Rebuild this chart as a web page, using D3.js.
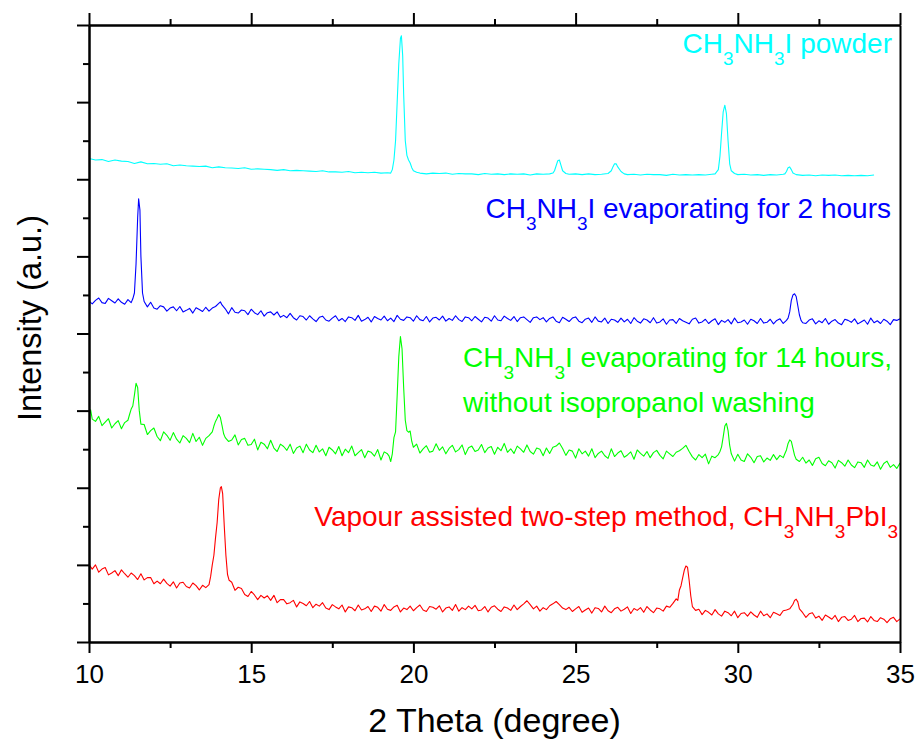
<!DOCTYPE html>
<html>
<head>
<meta charset="utf-8">
<script src="https://cdn.jsdelivr.net/npm/d3@7"></script>
<style>
body { margin: 0; background: #fff; }
text { font-family: "Liberation Sans", Arial, sans-serif; }
</style>
</head>
<body>
<div id="chart"></div>
<script>
// [2theta (deg), intensity (a.u., offset as plotted)]
const powder = [
[10.0,1254],[10.2,1250],[10.4,1251],[10.6,1246],[10.8,1250],[11.0,1247],[11.2,1246],[11.4,1241],[11.6,1245],[11.8,1240],
[12.0,1241],[12.2,1239],[12.4,1240],[12.6,1235],[12.8,1237],[13.0,1235],[13.2,1234],[13.4,1233],[13.6,1234],[13.8,1230],
[14.0,1232],[14.2,1230],[14.4,1229],[14.6,1228],[14.8,1230],[15.0,1226],[15.2,1227],[15.4,1226],[15.6,1225],[15.8,1223],
[16.0,1225],[16.2,1222],[16.4,1223],[16.6,1222],[16.8,1221],[17.0,1220],[17.2,1222],[17.4,1219],[17.6,1219],[17.8,1218],
[18.0,1220],[18.2,1217],[18.4,1218],[18.6,1217],[18.8,1218],[19.0,1216],[19.2,1217],[19.3,1216],[19.35,1225],[19.4,1250],
[19.45,1300],[19.5,1400],[19.55,1500],[19.6,1565],[19.63,1572],[19.67,1520],[19.7,1420],[19.75,1300],[19.8,1262],[19.85,1250],
[19.9,1242],[19.95,1230],[20.0,1222],[20.1,1218],[20.2,1216],[20.4,1214],[20.6,1216],[20.8,1215],[21.0,1216],[21.2,1213],
[21.4,1215],[21.6,1214],[21.8,1214],[22.0,1212],[22.2,1215],[22.4,1213],[22.6,1214],[22.8,1212],[23.0,1214],[23.2,1213],
[23.4,1214],[23.6,1211],[23.8,1214],[24.0,1213],[24.2,1214],[24.3,1216],[24.35,1222],[24.4,1235],[24.45,1248],[24.5,1250],
[24.55,1236],[24.6,1222],[24.7,1215],[24.8,1213],[25.0,1214],[25.2,1212],[25.4,1214],[25.6,1212],[25.8,1213],[26.0,1215],
[26.1,1222],[26.15,1232],[26.2,1240],[26.25,1240],[26.3,1232],[26.4,1220],[26.5,1214],[26.6,1212],[26.8,1213],[27.0,1211],
[27.2,1213],[27.4,1212],[27.6,1212],[27.8,1210],[28.0,1213],[28.2,1211],[28.4,1212],[28.6,1211],[28.8,1212],[29.0,1211],
[29.2,1213],[29.3,1214],[29.4,1225],[29.45,1260],[29.5,1320],[29.55,1375],[29.6,1392],[29.65,1370],[29.7,1300],[29.75,1240],
[29.8,1222],[29.9,1215],[30.0,1212],[30.2,1213],[30.4,1211],[30.6,1212],[30.8,1210],[31.0,1212],[31.2,1211],[31.4,1213],
[31.45,1214],[31.5,1220],[31.55,1230],[31.6,1232],[31.65,1225],[31.7,1216],[31.8,1212],[32.0,1210],[32.2,1211],[32.4,1209],
[32.6,1211],[32.8,1210],[33.0,1211],[33.2,1209],[33.4,1210],[33.6,1209],[33.8,1210],[34.0,1209],[34.2,1211]
];

const evap2h = [
[10.0,884],[10.1,877],[10.2,886],[10.3,892],[10.4,880],[10.5,878],[10.6,891],[10.7,885],[10.8,879],[10.9,890],
[11.0,881],[11.1,876],[11.2,888],[11.3,880],[11.35,890],[11.4,905],[11.45,980],[11.5,1100],[11.53,1149],[11.57,1120],
[11.6,1000],[11.65,905],[11.7,883],[11.8,869],[11.9,881],[12.0,866],[12.1,863],[12.2,872],[12.3,869],[12.4,858],
[12.5,866],[12.6,869],[12.7,859],[12.8,870],[12.9,856],[13.0,860],[13.1,865],[13.2,853],[13.3,867],[13.4,862],
[13.5,857],[13.6,868],[13.7,858],[13.8,866],[13.9,870],[14.0,878],[14.05,882],[14.1,874],[14.2,864],[14.3,851],
[14.4,867],[14.5,855],[14.6,853],[14.7,861],[14.8,859],[14.9,849],[15.0,863],[15.1,854],[15.2,849],[15.3,859],
[15.4,845],[15.5,854],[15.6,856],[15.7,848],[15.8,856],[15.9,842],[16.0,847],[16.1,841],[16.2,852],[16.3,841],
[16.4,835],[16.5,846],[16.6,844],[16.7,835],[16.8,846],[16.9,838],[17.0,831],[17.1,842],[17.2,845],[17.3,835],
[17.4,832],[17.5,840],[17.6,846],[17.7,833],[17.8,839],[17.9,831],[18.0,843],[18.1,841],[18.2,834],[18.3,847],
[18.4,832],[18.5,836],[18.6,842],[18.7,830],[18.8,844],[18.9,839],[19.0,835],[19.1,845],[19.2,833],[19.3,840],
[19.4,831],[19.5,847],[19.6,837],[19.7,834],[19.8,843],[19.9,841],[20.0,832],[20.1,846],[20.2,836],[20.3,833],
[20.4,844],[20.5,830],[20.6,840],[20.7,842],[20.8,835],[20.9,845],[21.0,832],[21.1,839],[21.2,834],[21.3,846],
[21.4,836],[21.5,831],[21.6,843],[21.7,841],[21.8,833],[21.9,844],[22.0,837],[22.1,830],[22.2,842],[22.3,840],
[22.4,832],[22.5,846],[22.6,835],[22.7,833],[22.8,845],[22.9,839],[23.0,834],[23.1,844],[23.2,831],[23.3,841],
[23.4,843],[23.5,836],[23.6,829],[23.7,841],[23.8,843],[23.9,836],[24.0,841],[24.1,830],[24.2,839],[24.3,843],
[24.4,832],[24.5,828],[24.6,842],[24.7,837],[24.8,831],[24.9,840],[25.0,843],[25.1,832],[25.2,828],[25.3,837],
[25.4,840],[25.5,829],[25.6,843],[25.7,832],[25.8,830],[25.9,840],[26.0,826],[26.1,837],[26.2,835],[26.3,829],
[26.4,840],[26.5,830],[26.6,837],[26.7,826],[26.8,841],[26.9,832],[27.0,827],[27.1,838],[27.2,835],[27.3,828],
[27.4,841],[27.5,827],[27.6,830],[27.7,838],[27.8,824],[27.9,835],[28.0,836],[28.1,826],[28.2,839],[28.3,833],
[28.4,829],[28.5,825],[28.6,837],[28.7,840],[28.8,827],[28.9,830],[29.0,837],[29.1,826],[29.2,833],[29.3,838],
[29.4,823],[29.5,834],[29.6,829],[29.7,836],[29.8,825],[29.9,840],[30.0,828],[30.1,830],[30.2,835],[30.3,824],
[30.4,837],[30.5,833],[30.6,826],[30.7,839],[30.8,827],[30.9,829],[31.0,837],[31.1,825],[31.2,834],[31.3,838],
[31.4,826],[31.5,834],[31.55,840],[31.6,856],[31.65,886],[31.7,900],[31.75,903],[31.8,896],[31.85,872],[31.9,848],
[31.95,834],[32.0,828],[32.1,826],[32.2,835],[32.3,838],[32.4,825],[32.5,833],[32.6,828],[32.7,839],[32.8,824],
[32.9,832],[33.0,836],[33.1,827],[33.2,823],[33.3,837],[33.4,834],[33.5,829],[33.6,838],[33.7,825],[33.8,830],
[33.9,835],[34.0,824],[34.1,840],[34.2,828],[34.3,833],[34.4,826],[34.5,837],[34.6,832],[34.7,823],[34.8,836],
[34.9,834],[35.0,838]
];

const evap14h = [
[10.0,584],[10.05,602],[10.1,578],[10.2,572],[10.3,585],[10.4,561],[10.5,570],[10.6,579],[10.7,555],[10.8,566],
[10.9,574],[11.0,553],[11.1,569],[11.2,575],[11.25,590],[11.3,604],[11.35,612],[11.4,640],[11.45,671],[11.5,660],
[11.55,600],[11.6,565],[11.7,564],[11.8,538],[11.9,548],[12.0,555],[12.1,533],[12.2,522],[12.3,545],[12.4,536],
[12.5,523],[12.6,543],[12.7,526],[12.8,516],[12.9,535],[13.0,528],[13.1,517],[13.2,541],[13.3,520],[13.4,531],
[13.5,510],[13.6,528],[13.7,535],[13.8,545],[13.85,560],[13.9,572],[13.95,580],[14.0,590],[14.05,582],[14.1,562],
[14.15,540],[14.2,530],[14.3,520],[14.4,524],[14.5,537],[14.6,511],[14.7,525],[14.8,528],[14.9,510],[15.0,512],
[15.1,526],[15.2,498],[15.3,518],[15.4,513],[15.5,501],[15.6,523],[15.7,503],[15.8,494],[15.9,513],[16.0,507],
[16.1,497],[16.2,513],[16.3,489],[16.4,503],[16.5,508],[16.6,491],[16.7,513],[16.8,498],[16.9,491],[17.0,510],
[17.1,493],[17.2,501],[17.3,483],[17.4,505],[17.5,498],[17.6,488],[17.7,507],[17.8,483],[17.9,500],[18.0,491],
[18.1,508],[18.2,483],[18.3,491],[18.4,499],[18.5,478],[18.6,495],[18.7,492],[18.8,482],[18.9,499],[19.0,472],
[19.1,493],[19.2,488],[19.25,482],[19.3,468],[19.35,488],[19.4,530],[19.45,545],[19.5,640],[19.55,740],[19.6,792],
[19.65,760],[19.7,660],[19.75,575],[19.8,548],[19.85,544],[19.9,547],[19.95,520],[20.0,505],[20.1,513],[20.2,490],
[20.3,501],[20.4,509],[20.5,492],[20.6,495],[20.7,514],[20.8,497],[20.9,506],[21.0,488],[21.1,502],[21.2,510],
[21.3,493],[21.4,499],[21.5,511],[21.6,486],[21.7,504],[21.8,508],[21.9,494],[22.0,498],[22.1,512],[22.2,491],
[22.3,503],[22.4,507],[22.5,487],[22.6,505],[22.7,496],[22.8,515],[22.9,492],[23.0,501],[23.1,489],[23.2,508],
[23.3,501],[23.4,492],[23.5,511],[23.6,494],[23.7,487],[23.8,503],[23.9,500],[24.0,483],[24.1,503],[24.2,489],
[24.3,505],[24.4,508],[24.5,516],[24.6,502],[24.7,484],[24.8,498],[24.9,495],[25.0,477],[25.1,501],[25.2,488],
[25.3,495],[25.4,482],[25.5,501],[25.6,478],[25.7,489],[25.8,495],[25.9,483],[26.0,476],[26.1,501],[26.2,481],
[26.3,490],[26.4,496],[26.5,479],[26.6,485],[26.7,493],[26.8,474],[26.9,498],[27.0,489],[27.1,482],[27.2,494],
[27.3,478],[27.4,491],[27.5,497],[27.6,484],[27.7,475],[27.8,495],[27.9,488],[28.0,481],[28.1,492],[28.2,496],
[28.3,502],[28.4,510],[28.5,494],[28.6,480],[28.7,472],[28.8,486],[28.9,478],[29.0,487],[29.1,462],[29.2,482],
[29.3,478],[29.4,486],[29.45,494],[29.5,506],[29.55,532],[29.6,560],[29.65,567],[29.7,548],[29.75,510],[29.8,488],
[29.9,469],[30.0,487],[30.1,472],[30.2,468],[30.3,488],[30.4,479],[30.5,465],[30.6,481],[30.7,483],[30.8,467],
[30.9,477],[31.0,471],[31.1,486],[31.2,473],[31.3,484],[31.4,478],[31.45,488],[31.5,498],[31.55,515],[31.6,524],
[31.65,520],[31.7,502],[31.75,484],[31.8,474],[31.9,468],[32.0,479],[32.1,464],[32.2,472],[32.3,458],[32.4,475],
[32.5,479],[32.6,463],[32.7,457],[32.8,470],[32.9,465],[33.0,451],[33.1,471],[33.2,465],[33.3,456],[33.4,472],
[33.5,459],[33.6,452],[33.7,467],[33.8,465],[33.9,453],[34.0,472],[34.1,459],[34.2,456],[34.3,467],[34.4,448],
[34.5,463],[34.6,469],[34.7,453],[34.8,460],[34.9,450],[35.0,464]
];

const vapourPbI3 = [
[10.0,201],[10.1,189],[10.2,200],[10.3,181],[10.4,189],[10.5,193],[10.6,174],[10.7,179],[10.8,185],[10.9,172],
[11.0,187],[11.1,177],[11.2,168],[11.3,179],[11.4,172],[11.5,162],[11.6,177],[11.7,161],[11.8,167],[11.9,167],
[12.0,151],[12.1,158],[12.2,151],[12.3,163],[12.4,152],[12.5,145],[12.6,156],[12.7,140],[12.8,153],[12.9,155],
[13.0,144],[13.1,140],[13.2,153],[13.3,146],[13.4,135],[13.5,147],[13.6,141],[13.7,149],[13.75,170],[13.8,200],
[13.85,225],[13.9,270],[13.95,310],[14.0,370],[14.05,400],[14.08,403],[14.12,385],[14.17,300],[14.22,225],[14.27,175],
[14.32,160],[14.4,155],[14.5,134],[14.6,142],[14.7,139],[14.8,123],[14.9,118],[15.0,131],[15.1,122],[15.2,110],
[15.3,121],[15.4,114],[15.5,120],[15.6,108],[15.7,121],[15.8,102],[15.9,110],[16.0,110],[16.1,99],[16.2,102],
[16.3,108],[16.4,91],[16.5,104],[16.6,100],[16.7,94],[16.8,105],[16.9,89],[17.0,98],[17.1,93],[17.2,102],
[17.3,88],[17.4,84],[17.5,97],[17.6,91],[17.7,86],[17.8,96],[17.9,78],[18.0,91],[18.1,89],[18.2,81],
[18.3,96],[18.4,83],[18.5,86],[18.6,92],[18.7,79],[18.8,93],[18.9,90],[19.0,80],[19.1,97],[19.2,85],
[19.3,82],[19.4,91],[19.5,95],[19.6,78],[19.7,88],[19.8,84],[19.9,93],[20.0,81],[20.1,89],[20.2,96],
[20.3,83],[20.4,79],[20.5,92],[20.6,90],[20.7,85],[20.8,94],[20.9,78],[21.0,88],[21.1,91],[21.2,82],
[21.3,97],[21.4,80],[21.5,89],[21.6,84],[21.7,93],[21.8,86],[21.9,95],[22.0,81],[22.1,83],[22.2,92],
[22.3,78],[22.4,90],[22.5,94],[22.6,85],[22.7,79],[22.8,91],[22.9,88],[23.0,82],[23.1,96],[23.2,84],
[23.3,92],[23.4,99],[23.5,107],[23.6,97],[23.7,86],[23.8,93],[23.9,80],[24.0,89],[24.1,84],[24.2,94],
[24.3,99],[24.4,105],[24.5,97],[24.6,88],[24.7,84],[24.8,90],[24.9,79],[25.0,86],[25.1,92],[25.2,77],
[25.3,83],[25.4,88],[25.5,75],[25.6,89],[25.7,87],[25.8,78],[25.9,93],[26.0,81],[26.1,76],[26.2,86],
[26.3,90],[26.4,80],[26.5,85],[26.6,91],[26.7,74],[26.8,87],[26.9,82],[27.0,89],[27.1,77],[27.2,92],
[27.3,83],[27.4,76],[27.5,88],[27.6,86],[27.7,80],[27.8,93],[27.9,90],[28.0,100],[28.1,112],[28.15,108],
[28.2,135],[28.25,146],[28.3,166],[28.35,186],[28.4,197],[28.45,194],[28.5,160],[28.55,120],[28.6,92],[28.7,82],
[28.8,85],[28.9,71],[29.0,82],[29.1,77],[29.2,70],[29.3,84],[29.4,73],[29.5,67],[29.6,80],[29.7,76],
[29.8,68],[29.9,80],[30.0,63],[30.1,74],[30.2,76],[30.3,67],[30.4,78],[30.5,70],[30.6,64],[30.7,80],
[30.8,68],[30.9,73],[31.0,63],[31.1,77],[31.2,73],[31.3,69],[31.4,81],[31.5,83],[31.6,86],[31.7,98],
[31.75,108],[31.8,111],[31.85,104],[31.9,86],[32.0,76],[32.1,64],[32.2,73],[32.3,76],[32.4,62],[32.5,67],
[32.6,56],[32.7,70],[32.8,65],[32.9,59],[33.0,69],[33.1,53],[33.2,64],[33.3,66],[33.4,56],[33.5,59],
[33.6,69],[33.7,53],[33.8,61],[33.9,62],[34.0,52],[34.1,66],[34.2,56],[34.3,53],[34.4,63],[34.5,59],
[34.6,50],[34.7,60],[34.8,64],[34.9,53],[35.0,60]
];

const xMajorTicks = [10, 15, 20, 25, 30, 35];
const xMinorTicks = [12.5, 17.5, 22.5, 27.5, 32.5];
const yMajorTicks = [0, 200, 400, 600, 800, 1000, 1200, 1400, 1600];
const yMinorTicks = [100, 300, 500, 700, 900, 1100, 1300, 1500];

const series = [
    {data: powder, color: "#00ffff"},
    {data: evap2h, color: "#0000ff"},
    {data: evap14h, color: "#00ff00"},
    {data: vapourPbI3, color: "#ff0000"}
];

// label pieces: [text, subscript?]
const labels = [
    {parts: [["CH", 0], ["3", 1], ["NH", 0], ["3", 1], ["I powder", 0]], color: "#00ffff", x: 892, y: 53, anchor: "end"},
    {parts: [["CH", 0], ["3", 1], ["NH", 0], ["3", 1], ["I evaporating for 2 hours", 0]], color: "#0000ff", x: 891, y: 218, anchor: "end"},
    {parts: [["CH", 0], ["3", 1], ["NH", 0], ["3", 1], ["I evaporating for 14 hours,", 0]], color: "#00ff00", x: 463, y: 367, anchor: "start"},
    {parts: [["without isopropanol washing", 0]], color: "#00ff00", x: 463, y: 412, anchor: "start"},
    {parts: [["Vapour assisted two-step method, CH", 0], ["3", 1], ["NH", 0], ["3", 1], ["PbI", 0], ["3", 1]], color: "#ff0000", x: 898, y: 526, anchor: "end"}
];

let width = 919,
    height = 742,
    margin = {top: 25, right: 19, bottom: 100, left: 89};

let svg = d3.select("#chart").append("svg")
    .attr("width", width)
    .attr("height", height);

let x = d3.scaleLinear()
    .domain([10, 35])
    .range([margin.left, width - margin.right]);

let y = d3.scaleLinear()
    .domain([0, 1600])
    .range([height - margin.bottom, margin.top]);

let plotBottom = y.range()[0],
    plotTop = y.range()[1],
    plotLeft = x.range()[0],
    plotRight = x.range()[1];

svg.append("clipPath")
    .attr("id", "plot-clip")
    .append("rect")
    .attr("x", plotLeft)
    .attr("y", plotTop)
    .attr("width", plotRight - plotLeft)
    .attr("height", plotBottom - plotTop);

let line = d3.line()
    .x(d => x(d[0]))
    .y(d => y(d[1]));

svg.append("g")
    .attr("clip-path", "url(#plot-clip)")
    .selectAll("path")
    .data(series)
    .enter().append("path")
    .attr("fill", "none")
    .attr("stroke", d => d.color)
    .attr("stroke-width", 1.1)
    .attr("stroke-linejoin", "round")
    .attr("d", d => line(d.data));

// axes
function styleAxis(g) {
    g.selectAll("path, line")
        .attr("stroke", "#000")
        .attr("stroke-width", 2);
    g.selectAll("text")
        .attr("fill", "#000")
        .style("font-family", '"Liberation Sans", Arial, sans-serif');
}

svg.append("g")
    .attr("transform", "translate(0," + plotBottom + ")")
    .call(d3.axisBottom(x).tickValues(xMinorTicks).tickSize(6).tickSizeOuter(0).tickFormat(""))
    .call(styleAxis);

svg.append("g")
    .attr("transform", "translate(0," + plotBottom + ")")
    .call(d3.axisBottom(x).tickValues(xMajorTicks).tickSize(11).tickSizeOuter(0).tickPadding(12).tickFormat(d3.format("d")))
    .call(styleAxis)
    .selectAll("text")
    .style("font-size", "26px");

svg.append("g")
    .attr("transform", "translate(0," + plotTop + ")")
    .call(d3.axisTop(x).tickValues(xMinorTicks).tickSize(6).tickSizeOuter(0).tickFormat(""))
    .call(styleAxis);

svg.append("g")
    .attr("transform", "translate(0," + plotTop + ")")
    .call(d3.axisTop(x).tickValues(xMajorTicks).tickSize(12).tickSizeOuter(0).tickFormat(""))
    .call(styleAxis);

svg.append("g")
    .attr("transform", "translate(" + plotLeft + ",0)")
    .call(d3.axisLeft(y).tickValues(yMinorTicks).tickSize(6).tickSizeOuter(0).tickFormat(""))
    .call(styleAxis);

svg.append("g")
    .attr("transform", "translate(" + plotLeft + ",0)")
    .call(d3.axisLeft(y).tickValues(yMajorTicks).tickSize(12).tickSizeOuter(0).tickFormat(""))
    .call(styleAxis);

svg.append("g")
    .attr("transform", "translate(" + plotRight + ",0)")
    .call(d3.axisRight(y).tickValues([]).tickSizeOuter(0))
    .call(styleAxis);

// axis titles
svg.append("text")
    .attr("x", (plotLeft + plotRight) / 2)
    .attr("y", 732)
    .attr("text-anchor", "middle")
    .style("font-size", "34px")
    .text("2 Theta (degree)");

svg.append("text")
    .attr("transform", "translate(41,318) rotate(-90)")
    .attr("text-anchor", "middle")
    .style("font-size", "32.5px")
    .text("Intensity (a.u.)");

// curve labels
let subShift = 12;
labels.forEach(lab => {
    let t = svg.append("text")
        .attr("x", lab.x)
        .attr("y", lab.y)
        .attr("text-anchor", lab.anchor)
        .attr("fill", lab.color)
        .style("font-size", "28px");
    let shifted = false;
    lab.parts.forEach(p => {
        let dy = 0;
        if (p[1] && !shifted) { dy = subShift; shifted = true; }
        else if (!p[1] && shifted) { dy = -subShift; shifted = false; }
        t.append("tspan")
            .attr("dy", dy)
            .style("font-size", p[1] ? "19px" : "28px")
            .text(p[0]);
    });
});
</script>
</body>
</html>
